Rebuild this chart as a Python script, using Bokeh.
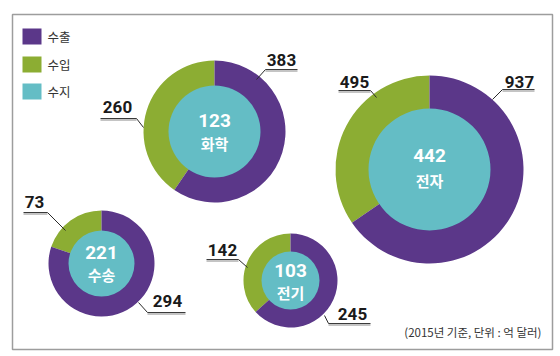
import math
from bokeh.plotting import figure
from bokeh.models import Range1d, ColumnDataSource
from bokeh.core.properties import value
from bokeh.embed import file_html
from bokeh.resources import INLINE

W, H = 560, 356

# ---- data ----
categories = ["화학", "전자", "수송", "전기"]
exports = [383, 937, 294, 245]
imports = [260, 495, 73, 142]
balance = [123, 442, 221, 103]
legend_labels = ["수출", "수입", "수지"]
note = "(2015년 기준, 단위 : 억 달러)"

# ---- layout (pixel coordinates, y downward) ----
cx = [214, 429, 101, 290]
cy = [131, 169, 263, 280]
r_out = [71, 94, 53, 47]
r_in = [46, 61, 33, 29]
num_dy = [-11, -14, -11, -10]
lab_dy = [12, 11, 11, 12]

# export label: text center, underline (x0, x1, y), leader end
exp_txt = [(281, 59), (519, 81), (167, 300), (352, 313)]
exp_ul = [(265, 297, 69), (502, 534, 89), (147, 185, 312), (328, 370, 323)]
exp_ld = [(256, 79), (492, 99), (138, 302), (324, 315)]
# import label
imp_txt = [(117, 106), (354, 81), (34, 201), (222, 249)]
imp_ul = [(100, 136, 118), (338, 370, 90), (23, 47, 212), (206, 238, 259)]
imp_ld = [(143, 127), (376, 97), (65, 230), (247, 267)]

PURPLE = "#5b3789"
GREEN = "#8cad33"
TEAL = "#64bdc5"


def Y(py):
    return H - py


p = figure(width=W, height=H, x_range=Range1d(0, W), y_range=Range1d(0, H),
           output_backend="svg", toolbar_location=None,
           x_axis_type=None, y_axis_type=None, min_border=0)
p.outline_line_color = None
p.xgrid.visible = False
p.ygrid.visible = False
p.background_fill_color = "white"

# frame
p.quad(left=[12], right=[552], top=[Y(14)], bottom=[Y(349)],
       fill_color=None, line_color="#9d9d9d", line_width=1.5)

# donuts
for i in range(len(categories)):
    tot = exports[i] + imports[i]
    f = imports[i] / tot
    a0 = math.pi / 2
    a1 = a0 + f * 2 * math.pi
    p.annular_wedge(x=[cx[i]], y=[Y(cy[i])], inner_radius=r_in[i] - 1, outer_radius=r_out[i],
                    start_angle=a0, end_angle=a1, direction="anticlock",
                    fill_color=GREEN, line_color=None)
    p.annular_wedge(x=[cx[i]], y=[Y(cy[i])], inner_radius=r_in[i] - 1, outer_radius=r_out[i],
                    start_angle=a1, end_angle=a0 + 2 * math.pi, direction="anticlock",
                    fill_color=PURPLE, line_color=None)
    p.circle(x=[cx[i]], y=[Y(cy[i])], radius=r_in[i], fill_color=TEAL, line_color=None)

# center texts
src_c = ColumnDataSource(dict(
    x=cx,
    yn=[Y(cy[i] + num_dy[i]) for i in range(4)],
    yl=[Y(cy[i] + lab_dy[i]) for i in range(4)],
    num=[str(v) for v in balance],
    lab=categories,
))
p.text(x="x", y="yn", text="num", source=src_c, text_color="white",
       text_font=value("Roboto"), text_font_style="bold", text_font_size="19px",
       text_align="center", text_baseline="middle")
p.text(x="x", y="yl", text="lab", source=src_c, text_color="white",
       text_font=value("Noto Sans CJK KR"), text_font_style="bold", text_font_size="15px",
       text_align="center", text_baseline="middle")

# value labels with underline + leader
def add_labels(vals, txt, ul, ld):
    p.text(x=[t[0] for t in txt], y=[Y(t[1]) for t in txt], text=[str(v) for v in vals],
           text_color="#1a1a1a", text_font=value("Roboto"), text_font_style="bold",
           text_font_size="17px", text_align="center", text_baseline="middle")
    p.segment(x0=[u[0] for u in ul], x1=[u[1] for u in ul],
              y0=[Y(u[2] + 1.5) for u in ul], y1=[Y(u[2] + 1.5) for u in ul],
              line_color="#b0b0b0", line_width=1.5)
    p.segment(x0=[u[0] for u in ul], x1=[u[1] for u in ul],
              y0=[Y(u[2]) for u in ul], y1=[Y(u[2]) for u in ul],
              line_color="#3a3a3a", line_width=1.2)


add_labels(exports, exp_txt, exp_ul, exp_ld)
add_labels(imports, imp_txt, imp_ul, imp_ld)

# leaders
p.segment(x0=[u[0] for u in exp_ul], y0=[Y(u[2]) for u in exp_ul],
          x1=[d[0] for d in exp_ld], y1=[Y(d[1]) for d in exp_ld],
          line_color="#2a2a2a", line_width=1)
p.segment(x0=[u[1] for u in imp_ul], y0=[Y(u[2]) for u in imp_ul],
          x1=[d[0] for d in imp_ld], y1=[Y(d[1]) for d in imp_ld],
          line_color="#2a2a2a", line_width=1)

# legend
leg_y = [36, 64, 91]
p.rect(x=[31.5] * 3, y=[Y(v) for v in leg_y], width=19, height=16,
       fill_color=[PURPLE, GREEN, TEAL], line_color=None)
p.text(x=[47] * 3, y=[Y(v) for v in leg_y], text=legend_labels,
       text_color="#333333", text_font=value("Noto Sans CJK KR"),
       text_font_size="12.5px", text_align="left", text_baseline="middle")

# note
p.text(x=[541], y=[Y(331)], text=[note], text_color="#333333",
       text_font=value("Noto Sans CJK KR"), text_font_size="11.5px",
       text_align="right", text_baseline="middle")

open("out.html", "w").write(file_html(p, INLINE))
